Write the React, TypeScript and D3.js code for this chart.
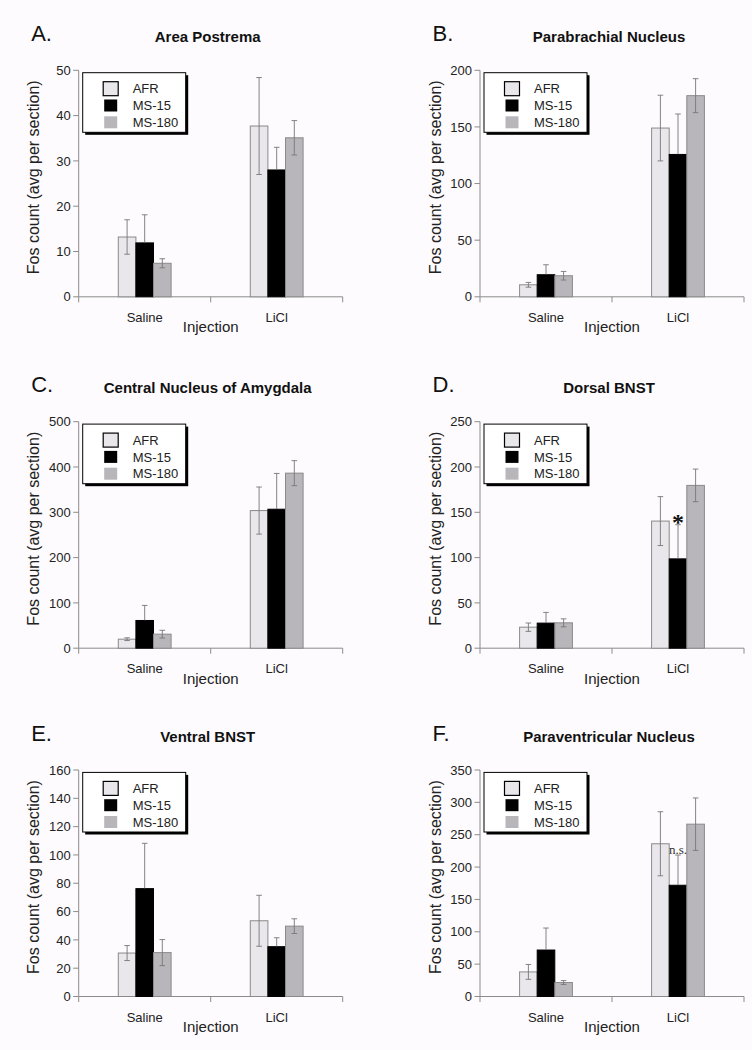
import React from "react";
import * as d3 from "d3";

const categories = ["Saline", "LiCl"];
const seriesNames = ["AFR", "MS-15", "MS-180"];
const seriesFill = ["#e9e7eb", "#000000", "#b8b6ba"];
const panelLetters = ["A.", "B.", "C.", "D.", "E.", "F."];
const panelTitles = [
  "Area Postrema",
  "Parabrachial Nucleus",
  "Central Nucleus of Amygdala",
  "Dorsal BNST",
  "Ventral BNST",
  "Paraventricular Nucleus",
];
const yMaxValues = [50, 200, 500, 250, 160, 350];
const yTickSteps = [10, 50, 100, 50, 20, 50];

// [category][series]
const meansA = [[13.2, 11.9, 7.4], [37.7, 28.0, 35.1]];
const errsA = [[3.8, 6.2, 1.0], [10.7, 5.0, 3.8]];
const meansB = [[10.6, 19.5, 18.6], [149, 125.7, 177.6]];
const errsB = [[2.1, 8.8, 3.8], [29, 35.7, 15]];
const meansC = [[19.9, 61.2, 31], [303.8, 306.8, 386.4]];
const errsC = [[3, 33.2, 8.5], [52, 79, 27.6]];
const meansD = [[23.2, 27.7, 28.0], [140.3, 98.6, 179.7]];
const errsD = [[4.6, 11.8, 4.4], [27, 37.7, 18]];
const meansE = [[30.7, 76.2, 31], [53.5, 35.2, 49.7]];
const errsE = [[5.3, 32, 9.2], [18, 6.3, 5.2]];
const meansF = [[38, 71.8, 21.6], [236, 171.9, 266.3]];
const errsF = [[11.5, 34, 3], [49.5, 46.7, 40.5]];

const allMeans = [meansA, meansB, meansC, meansD, meansE, meansF];
const allErrs = [errsA, errsB, errsC, errsD, errsE, errsF];

const annotationPanels = [3, 5];
const annotationCategory = [1, 1];
const annotationSeries = [1, 1];
const annotationTexts = ["*", "n.s."];

const FONT = "'Liberation Sans', Arial, Helvetica, sans-serif";
const SERIF = "'Liberation Serif', 'Times New Roman', serif";
const COL_X = [78.7, 480];
const ROW_Y = [70.3, 421.7, 770];
const PW = 264;
const PH = 226.5;
const AXIS = "#8c8c8c";
const ERR = "#777";

function Panel({ idx }: { idx: number }) {
  const col = idx % 2;
  const row = Math.floor(idx / 2);
  const x0 = COL_X[col];
  const top = ROW_Y[row];
  const bottom = top + PH;
  const yMax = yMaxValues[idx];
  const step = yTickSteps[idx];
  const means = allMeans[idx];
  const errs = allErrs[idx];

  const x = d3
    .scaleBand<string>()
    .domain(categories)
    .range([x0, x0 + PW])
    .paddingInner(0.6)
    .paddingOuter(0.3);
  const xs = d3.scaleBand<string>().domain(seriesNames).range([0, x.bandwidth()]);
  const y = d3.scaleLinear().domain([0, yMax]).range([bottom, top]);
  const ticks = d3.range(0, yMax + step / 2, step);
  const boundaries = d3.range(0, categories.length + 1).map((i) => x0 + i * x.step());

  const bars: React.ReactNode[] = [];
  const errBars: React.ReactNode[] = [];
  categories.forEach((c, ci) => {
    seriesNames.forEach((s, si) => {
      const bx = (x(c) as number) + (xs(s) as number);
      const bw = xs.bandwidth();
      const v = means[ci][si];
      const e = errs[ci][si];
      bars.push(
        <rect
          key={`b${ci}${si}`}
          x={bx}
          y={y(v)}
          width={bw}
          height={bottom - y(v)}
          fill={seriesFill[si]}
          stroke={si === 1 ? "#000" : "#8a8a8a"}
          strokeWidth={1}
        />
      );
      const cx = bx + bw / 2;
      const yt = y(v + e);
      const ym = y(v);
      const yb = y(Math.max(0, v - e));
      const lowColor = si === 1 ? "#000" : ERR;
      errBars.push(
        <g key={`e${ci}${si}`} strokeWidth={0.9} fill="none">
          <line x1={cx} x2={cx} y1={yt} y2={ym} stroke={ERR} />
          <line x1={cx - 2.8} x2={cx + 2.8} y1={yt} y2={yt} stroke={ERR} />
          <line x1={cx} x2={cx} y1={ym} y2={yb} stroke={lowColor} />
          <line x1={cx - 2.8} x2={cx + 2.8} y1={yb} y2={yb} stroke={lowColor} />
        </g>
      );
    });
  });

  const annots: React.ReactNode[] = [];
  annotationPanels.forEach((p, ai) => {
    if (p !== idx) return;
    const c = categories[annotationCategory[ai]];
    const si = annotationSeries[ai];
    const s = seriesNames[si];
    const cx = (x(c) as number) + (xs(s) as number) + xs.bandwidth() / 2;
    const v = means[annotationCategory[ai]][si];
    const e = errs[annotationCategory[ai]][si];
    const yt = y(v + e);
    const t = annotationTexts[ai];
    if (t === "*") {
      annots.push(
        <text key={`a${ai}`} x={cx} y={yt + 5.5} textAnchor="middle" fontFamily={SERIF} fontWeight="bold" fontSize={24} fill="#111">
          {t}
        </text>
      );
    } else {
      annots.push(
        <text key={`a${ai}`} x={cx} y={yt - 1.5} textAnchor="middle" fontFamily={SERIF} fontSize={13} fill="#333">
          {t}
        </text>
      );
    }
  });

  const legTop = top + 2.4;
  const legLeft = x0 + 4;
  const legRowY = [16, 32.8, 49.6];

  return (
    <g>
      <text x={x0 - 47.5} y={top - 29.5} fontFamily={FONT} fontSize={22} fill="#111">
        {panelLetters[idx]}
      </text>
      <text x={x0 + PW / 2 - 3} y={top - 28.5} textAnchor="middle" fontFamily={FONT} fontWeight="bold" fontSize={15} fill="#111">
        {panelTitles[idx]}
      </text>

      {/* y axis */}
      <line x1={x0} x2={x0} y1={top} y2={bottom} stroke={AXIS} strokeWidth={1} />
      {ticks.map((t) => (
        <g key={`t${t}`}>
          <line x1={x0 - 5.5} x2={x0} y1={y(t)} y2={y(t)} stroke={AXIS} strokeWidth={1} />
          <text x={x0 - 8} y={y(t)} dy="0.36em" textAnchor="end" fontFamily={FONT} fontSize={13} fill="#222">
            {t}
          </text>
        </g>
      ))}
      {/* x axis */}
      <line x1={x0} x2={x0 + PW} y1={bottom} y2={bottom} stroke={AXIS} strokeWidth={1} />
      {boundaries.map((bx, i) => (
        <line key={`xb${i}`} x1={bx} x2={bx} y1={bottom} y2={bottom + 5.5} stroke={AXIS} strokeWidth={1} />
      ))}
      {categories.map((c) => (
        <text key={c} x={(x(c) as number) + x.bandwidth() / 2} y={bottom + 25} textAnchor="middle" fontFamily={FONT} fontSize={13} fill="#222">
          {c}
        </text>
      ))}
      <text x={x0 + PW / 2} y={bottom + 35.5} textAnchor="middle" fontFamily={FONT} fontSize={15} fill="#222">
        Injection
      </text>
      <text
        transform={`translate(${x0 - 39.5},${top + 107}) rotate(-90)`}
        textAnchor="middle"
        fontFamily={FONT}
        fontSize={16}
        fill="#222"
      >
        Fos count (avg per section)
      </text>

      {bars}
      {errBars}
      {annots}

      {/* legend */}
      <rect x={legLeft + 2.5} y={legTop + 2.5} width={103} height={59.6} fill="#000" />
      <rect x={legLeft} y={legTop} width={103} height={59.6} fill="#fff" stroke="#000" strokeWidth={1} />
      {seriesNames.map((s, si) => (
        <g key={s}>
          <rect
            x={legLeft + (si === 0 ? 20.5 : 21.5)}
            y={legTop + legRowY[si] - (si === 0 ? 7 : 6)}
            width={si === 0 ? 15 : 13}
            height={si === 0 ? 14 : 12}
            fill={seriesFill[si]}
            stroke={si === 0 ? "#000" : "none"}
            strokeWidth={1.2}
          />
          <text x={legLeft + 50} y={legTop + legRowY[si]} dy="0.36em" fontFamily={FONT} fontSize={13} fill="#222">
            {s}
          </text>
        </g>
      ))}
    </g>
  );
}

export default function App() {
  return (
    <svg
      width={752}
      height={1050}
      style={{ position: "absolute", left: 0, top: 0, background: "#fdfbfd" }}
    >
      <rect x={0} y={0} width={752} height={1050} fill="#fdfbfd" />
      {panelTitles.map((_, i) => (
        <Panel key={i} idx={i} />
      ))}
    </svg>
  );
}
